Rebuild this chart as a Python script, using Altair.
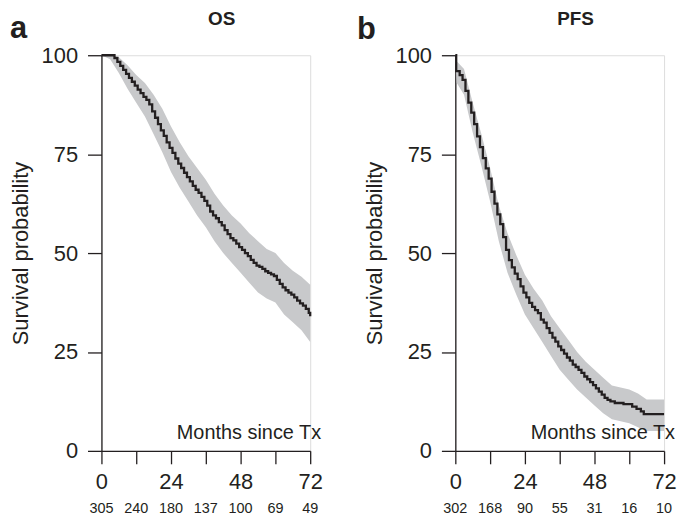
import altair as alt
import pandas as pd

# ---------------- data ----------------
os_time = [0, 4.5, 5.5, 6.5, 7.5, 8.5, 9.5, 10.5, 11.5, 12.5, 13.5, 14.5, 15.5, 16.5,
           17.5, 18.5, 19.5, 20.5, 21.5, 22.5, 23.5, 24.5, 25.5, 26.5, 27.5, 28.5,
           29.5, 30.5, 31.5, 32.5, 33.5, 34.5, 35.5, 36.5, 37.5, 38.5, 39.5, 40.5,
           41.5, 42.5, 43.5, 44.5, 45.5, 46.5, 47.5, 48.5, 49.5, 50.5, 51.5, 52.5,
           53.5, 54.5, 55.5, 56.5, 57.5, 58.5, 59.5, 60.5, 61.5, 62.5, 63.5, 64.5,
           65.5, 66.5, 67.5, 68.5, 69.5, 70.5, 71.5, 72]
os_surv = [100, 99.3, 98.3, 97.3, 96.3, 95.3, 94.3, 93.3, 92.3, 91.3, 90.4, 89.5, 88.7, 87.6,
           85.8, 84.2, 82.6, 81.0, 79.6, 78.0, 76.6, 75.3, 73.9, 72.6, 71.5, 70.3,
           69.2, 68.1, 67.0, 66.0, 65.2, 64.2, 63.2, 62.0, 60.5, 59.5, 58.8, 57.8,
           57.0, 55.8, 54.8, 53.8, 53.2, 52.4, 51.5, 50.8, 50.0, 49.2, 48.3, 47.5,
           46.8, 46.5, 46.0, 45.4, 45.0, 44.6, 44.2, 43.2, 42.2, 41.3, 40.6, 40.0,
           39.5, 38.8, 38.0, 37.3, 36.7, 35.9, 34.9, 34.0]

os_ci_time = [0, 3, 6, 9, 12, 15, 18, 21, 24, 27, 30, 33, 36, 39, 42, 45, 48, 51, 54,
              57, 60, 63, 66, 69, 72]
os_ci_upper = [100, 100, 99.5, 97.5, 95, 93, 90, 86.5, 82, 78, 74.5, 71.5, 68.5, 65, 62,
               59.5, 57.5, 55, 53, 51, 50, 47.5, 45.5, 44, 42]
os_ci_lower = [100, 99, 95.5, 91.5, 88, 84.5, 80, 75.5, 70.5, 66.5, 63, 59.5, 56.5, 53, 50,
               47.5, 45, 42.5, 40, 38.5, 37.5, 34.5, 32.5, 30.5, 27.5]

pfs_time = [0, 0.3, 1.5, 2.5, 3.5, 4.5, 5.5, 6.5, 7.5, 8.5, 9.5, 10.5, 11.5, 12.5, 13.5,
            14.5, 15.5, 16.5, 17.5, 18.5, 19.5, 20.5, 21.5, 22.5, 23.5, 24.5, 25.5,
            26.5, 27.5, 28.5, 29.5, 30.5, 31.5, 32.5, 33.5, 34.5, 35.5, 36.5, 37.5,
            38.5, 39.5, 40.5, 41.5, 42.5, 43.5, 44.5, 45.5, 46.5, 47.5, 48.5, 49.5,
            50.5, 51.5, 52.5, 53.5, 55, 58, 61, 62.5, 64, 65, 72]
pfs_surv = [100, 96, 95, 93.8, 91, 88, 85.5, 82.6, 79.5, 76.8, 74, 71.4, 68.8, 65.5, 62.5,
            59.8, 57.3, 54, 50.8, 48.2, 46.4, 44.8, 43.4, 41.6, 40, 38.8, 37.4,
            36.4, 35.6, 34.8, 33.2, 32.4, 31, 29.8, 28.6, 27.6, 26.4, 25.5, 24.6,
            23.6, 22.8, 21.8, 21.2, 20.5, 19.7, 18.8, 18.1, 17.4, 16.6, 15.8, 15,
            14.2, 13.4, 12.9, 12.5, 12.1, 11.8, 11.2, 10.6, 10, 9.3, 9.3]

pfs_ci_time = [0, 0.5, 3, 6, 9, 12, 15, 18, 21, 24, 27, 30, 33, 36, 39, 42, 45, 48, 51,
               54, 57, 60, 63, 66, 69, 72]
pfs_ci_upper = [100, 98.5, 96.5, 88, 80, 71.5, 62, 55, 49.5, 44.5, 41, 38, 34, 31, 28, 25,
                22.5, 20.5, 18.5, 16.5, 16, 15.5, 14.5, 13, 13, 13]
pfs_ci_lower = [100, 93, 90, 80.5, 72, 63, 53, 45, 39.5, 34.5, 31, 27.5, 24, 20.5, 18,
                15.5, 13.5, 11.5, 9.5, 8, 7.5, 7, 6, 5, 5, 5]

risk_months = [0, 12, 24, 36, 48, 60, 72]
os_at_risk = [305, 240, 180, 137, 100, 69, 49]
pfs_at_risk = [302, 168, 90, 55, 31, 16, 10]

x_ticks = [0, 12, 24, 36, 48, 60, 72]
y_ticks = [0, 25, 50, 75, 100]

# ---------------- styling ----------------
FONT = "Liberation Sans"
INK = "#231f20"
BAND = "#c8c9cb"
W, H = 210, 398


def panel(letter, letter_x, letter_y, title, time, surv, ci_t, up, lo, risk):
    curve = pd.DataFrame({"t": time, "s": surv})
    band = pd.DataFrame({"t": ci_t, "up": up, "lo": lo})
    risk_df = pd.DataFrame({"t": risk_months, "n": risk})

    xscale = alt.Scale(domain=[0, 72], nice=False, zero=False)
    yscale = alt.Scale(domain=[0, 100], nice=False)
    xaxis = alt.Axis(values=x_ticks,
                     labelExpr="datum.value % 24 == 0 ? datum.label : ''",
                     title=None, grid=False, tickSize=13, labelPadding=8,
                     labelFontSize=22, labelFont=FONT, labelColor=INK,
                     domainColor=INK, tickColor=INK, domainWidth=1.3, tickWidth=1.3,
                     labelFlush=False, labelOverlap=False)
    yaxis = alt.Axis(values=y_ticks, title="Survival probability", grid=False,
                     tickSize=14, labelPadding=10, labelFontSize=22, labelFont=FONT,
                     labelColor=INK, domainColor=INK, tickColor=INK, domainWidth=1.3,
                     tickWidth=1.3, titleFont=FONT, titleFontSize=22,
                     titleFontWeight="normal", titleColor=INK, titlePadding=9)

    band_layer = alt.Chart(band).mark_area(
        interpolate="linear", color=BAND, opacity=1
    ).encode(
        x=alt.X("t:Q", scale=xscale, axis=xaxis),
        y=alt.Y("up:Q", scale=yscale, axis=yaxis),
        y2="lo:Q",
    )
    line_layer = alt.Chart(curve).mark_line(
        interpolate="step-after", color=INK, strokeWidth=2.3
    ).encode(
        x=alt.X("t:Q", scale=xscale, axis=xaxis),
        y=alt.Y("s:Q", scale=yscale, axis=yaxis),
    )
    risk_layer = alt.Chart(risk_df).mark_text(
        font=FONT, fontSize=14.5, color=INK, baseline="alphabetic", align="center"
    ).encode(
        x=alt.X("t:Q", scale=xscale, axis=xaxis),
        y=alt.value(H + 62),
        text="n:Q",
    )
    months = alt.Chart(pd.DataFrame({"l": ["Months since Tx"]})).mark_text(
        font=FONT, fontSize=20, color=INK, align="right", baseline="alphabetic"
    ).encode(x=alt.value(W + 11), y=alt.value(H - 12), text="l:N")
    letter_layer = alt.Chart(pd.DataFrame({"l": [letter]})).mark_text(
        font=FONT, fontSize=31, fontWeight="bold", color=INK, align="left",
        baseline="alphabetic"
    ).encode(x=alt.value(letter_x), y=alt.value(letter_y), text="l:N")
    title_layer = alt.Chart(pd.DataFrame({"l": [title]})).mark_text(
        font=FONT, fontSize=19, fontWeight="bold", color=INK, align="center",
        baseline="alphabetic"
    ).encode(x=alt.value(121), y=alt.value(-30), text="l:N")

    return alt.layer(band_layer, line_layer, risk_layer, months, letter_layer,
                     title_layer).properties(width=W, height=H)


panel_a = panel("a", -92, -17, "OS", os_time, os_surv, os_ci_time, os_ci_upper,
                os_ci_lower, os_at_risk)
panel_b = panel("b", -99, -16, "PFS", pfs_time, pfs_surv, pfs_ci_time, pfs_ci_upper,
                pfs_ci_lower, pfs_at_risk)

chart = alt.hconcat(panel_a, panel_b, spacing=33).properties(
    padding={"left": 0, "top": 0, "right": 0, "bottom": 0}
).configure_view(stroke=None).configure(background="white")

chart.save("out.html", embed_options={"renderer": "svg", "actions": False})
